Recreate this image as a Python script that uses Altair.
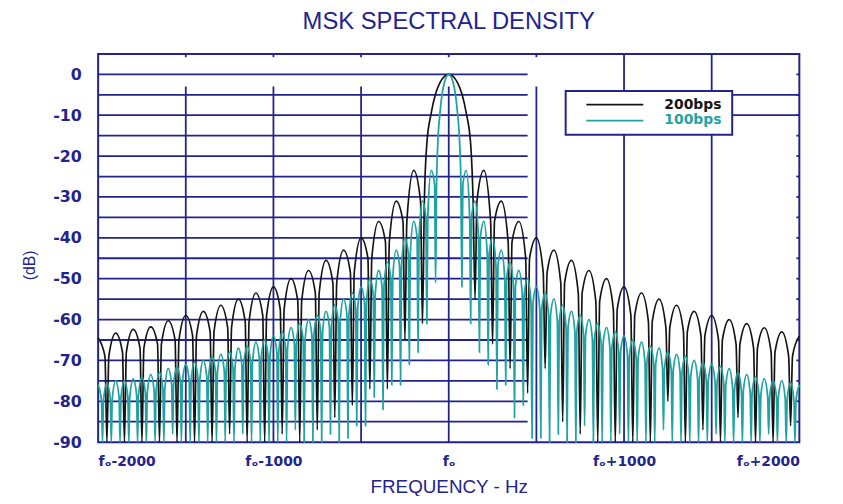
import altair as alt
import pandas as pd

NAVY = "#23238e"
BLACK = "#141414"
TEAL = "#1fa3a3"

# ---------------- data ----------------
# 200 bps (black)
BLK_MAIN_F = [-125, -100, -50, 0, 50, 100, 125]
BLK_MAIN_DB = [-17, -9.5, -2, 0, -2, -9.5, -17]
BLK_PEAK_F = [200, 300, 400, 500, 600, 700, 800, 900, 1000, 1100,
              1200, 1300, 1400, 1500, 1600, 1700, 1800, 1900, 2000]
BLK_PEAK_LEFT_DB = [-23.5, -31, -36, -40, -43, -45.5, -48, -50, -52, -53.5,
                    -55, -56.5, -58, -59, -60.3, -61.8, -62.4, -63.3, -64.5]
BLK_PEAK_RIGHT_DB = [-23.5, -31, -36, -40, -43, -45.5, -48, -50, -52, -53.5,
                     -55, -56.5, -58, -59, -60, -61, -62, -63, -64]
BLK_NULL_F = [150, 250, 350, 450, 550, 650, 750, 850, 950, 1050,
              1150, 1250, 1350, 1450, 1550, 1650, 1750, 1850, 1950]
BLK_EDGE_LEFT_DB = [-31, -36, -41, -45, -48.5, -51, -53.5, -55.5, -57.5, -59,
                    -60.5, -62, -63, -64, -65, -66, -67, -68, -69]
BLK_EDGE_RIGHT_DB = [-31, -36, -41, -45, -48.5, -51, -53.5, -55.5, -57.5, -59,
                     -60.5, -62, -63, -64, -65, -66, -67, -68, -69]
BLK_DEPTH_LEFT_DB = [-61, -65, -77, -77, -81, -84, -87, -90, -88, -90,
                     -90, -88, -90, -90, -90, -90, -90, -90, -90]
BLK_DEPTH_RIGHT_DB = [-55, -66, -72, -78, -72, -85, -88, -90, -90, -90,
                      -90, -80, -90, -87, -90, -84, -90, -90, -86]

# 100 bps (teal)
TEAL_MAIN_F = [-62.5, -50, -25, 0, 25, 50, 62.5]
TEAL_MAIN_DB = [-17, -9.5, -2, 0, -2, -9.5, -17]
TEAL_PEAK_F = [100, 150, 200, 250, 300, 350, 400, 450, 500, 550,
               600, 650, 700, 750, 800, 850, 900, 950, 1000, 1050,
               1100, 1150, 1200, 1250, 1300, 1350, 1400, 1450, 1500, 1550,
               1600, 1650, 1700, 1750, 1800, 1850, 1900, 1950, 2000]
TEAL_PEAK_DB = [-23.5, -31, -36, -40, -43, -46, -48, -50, -52, -53.5,
                -55, -56.5, -58, -59, -60, -61, -62, -63, -64, -65,
                -65.5, -66.5, -67, -68, -68.5, -69, -70, -70.5, -71, -71.5,
                -72, -73, -73.5, -74, -74.5, -75, -75, -75.5, -76]
TEAL_NULL_F = [75, 125, 175, 225, 275, 325, 375, 425, 475, 525,
               575, 625, 675, 725, 775, 825, 875, 925, 975, 1025,
               1075, 1125, 1175, 1225, 1275, 1325, 1375, 1425, 1475, 1525,
               1575, 1625, 1675, 1725, 1775, 1825, 1875, 1925, 1975]
TEAL_EDGE_DB = [-27, -35, -40, -44, -47, -50, -52, -54, -56, -57.5,
                -59, -60.5, -62, -63, -64, -65, -66, -67, -68, -69,
                -69.5, -70.5, -71, -72, -72.5, -73, -74, -74.5, -75, -75.5,
                -76, -77, -77.5, -78, -78.5, -79, -79, -79.5, -80]
TEAL_DEPTH_LEFT_DB = [-51, -61, -68, -71, -76, -76, -82, -79, -86, -86,
                      -89, -90, -88, -90, -90, -90, -87, -90, -90, -90,
                      -90, -90, -88, -90, -90, -90, -90, -90, -90, -90,
                      -88, -90, -90, -90, -90, -90, -90, -90, -90]
TEAL_DEPTH_RIGHT_DB = [-52, -61, -68, -71, -77, -76, -84, -81, -89, -89,
                       -90, -88, -90, -90, -86, -90, -90, -90, -88, -90,
                       -90, -90, -90, -87, -90, -90, -90, -90, -90, -88,
                       -90, -90, -90, -90, -90, -88, -90, -90, -90]

# axes / grid
Y_TICKS = [-90, -80, -70, -60, -50, -40, -30, -20, -10, 0]
X_TICKS = [-2000, -1000, 0, 1000, 2000]
H_GRID_DB = [0, -5, -10, -15, -20, -25, -30, -35, -40, -45,
             -50, -55, -60, -65, -70, -75, -80, -85]
RIGHT_GRID_DB = [-5, -10]
V_GRID_SHORT = [-1500, -1000, -500, 0, 500]
V_GRID_FULL = [1000, 1500]

# drawing style: half width (Hz) of the narrow notch drawn at every null
BLK_NOTCH = 11
TEAL_NOTCH = 5.5


# ---------------- tables ----------------
def line_table(main_f, main_db, peak_f, peak_l, peak_r,
               null_f, edge_l, edge_r, depth_l, depth_r, notch):
    rows = list(zip(main_f, main_db))
    for f, l, r in zip(peak_f, peak_l, peak_r):
        rows.append((-f, l))
        rows.append((f, r))
    for f, el, er, dl, dr in zip(null_f, edge_l, edge_r, depth_l, depth_r):
        rows += [(-f - notch, el), (-f, dl), (-f + notch, el)]
        rows += [(f - notch, er), (f, dr), (f + notch, er)]
    df = pd.DataFrame(rows, columns=["f", "db"])
    return df.sort_values("f").reset_index(drop=True)


blk_line = line_table(BLK_MAIN_F, BLK_MAIN_DB, BLK_PEAK_F, BLK_PEAK_LEFT_DB,
                      BLK_PEAK_RIGHT_DB, BLK_NULL_F, BLK_EDGE_LEFT_DB,
                      BLK_EDGE_RIGHT_DB, BLK_DEPTH_LEFT_DB, BLK_DEPTH_RIGHT_DB,
                      BLK_NOTCH)
teal_line = line_table(TEAL_MAIN_F, TEAL_MAIN_DB, TEAL_PEAK_F, TEAL_PEAK_DB,
                       TEAL_PEAK_DB, TEAL_NULL_F, TEAL_EDGE_DB, TEAL_EDGE_DB,
                       TEAL_DEPTH_LEFT_DB, TEAL_DEPTH_RIGHT_DB, TEAL_NOTCH)

hgrid = pd.DataFrame({"db": H_GRID_DB})
rgrid = pd.DataFrame({"db": RIGHT_GRID_DB})
vshort = pd.DataFrame({"f": V_GRID_SHORT})
vfull = pd.DataFrame({"f": V_GRID_FULL})
one = pd.DataFrame({"k": [0]})

xscale = alt.Scale(domain=[-2000, 2000], nice=False, zero=False)
yscale = alt.Scale(domain=[-90, 5], nice=False, zero=False)

x_axis = alt.Axis(
    values=X_TICKS,
    labelExpr="datum.value == 0 ? 'fₒ' : (datum.value > 0 ? 'fₒ+' + datum.value : 'fₒ' + datum.value)",
    labelFont="DejaVu Sans", labelFontWeight="bold", labelFontSize=14,
    labelColor=NAVY, labelPadding=13, ticks=False, domain=False, grid=False,
    title="FREQUENCY - Hz", titleFont="Liberation Sans", titleFontSize=19,
    titleFontWeight="normal", titleColor=NAVY, titleY=51,
    titleBaseline="alphabetic",
)
y_axis = alt.Axis(
    values=Y_TICKS, labelExpr="datum.value + ''",
    labelFont="DejaVu Sans", labelFontWeight="bold", labelFontSize=16,
    labelColor=NAVY, labelPadding=17, ticks=False, domain=False, grid=False,
    title="(dB)", titleFont="Liberation Sans", titleFontSize=16,
    titleFontWeight="normal", titleColor=NAVY, titleX=-69, titleY=213,
    titleAngle=-90, titleAlign="center", titleBaseline="middle",
)


def X(v):
    if isinstance(v, str):
        return alt.X(v, type="quantitative", scale=xscale, axis=x_axis)
    return alt.datum(v, scale=xscale, axis=x_axis)


def Y(v):
    if isinstance(v, str):
        return alt.Y(v, type="quantitative", scale=yscale, axis=y_axis)
    return alt.datum(v, scale=yscale, axis=y_axis)


GW = 1.8

grid_h = alt.Chart(hgrid).mark_rule(color=NAVY, strokeWidth=GW).encode(
    x=X(-2000), x2=alt.datum(450), y=Y("db"))
grid_r = alt.Chart(rgrid).mark_rule(color=NAVY, strokeWidth=GW).encode(
    x=X(1617), x2=alt.datum(2000), y=Y("db"))
grid_vs = alt.Chart(vshort).mark_rule(color=NAVY, strokeWidth=GW).encode(
    x=X("f"), y=Y(-3), y2=alt.datum(-90))
grid_vf = alt.Chart(vfull).mark_rule(color=NAVY, strokeWidth=GW).encode(
    x=X("f"), y=Y(5), y2=alt.datum(-90))
top_ticks = alt.Chart(vshort).mark_rule(color=NAVY, strokeWidth=GW).encode(
    x=X("f"), y=Y(5), y2=alt.datum(4.2))
right_ticks = alt.Chart(hgrid).mark_rule(color=NAVY, strokeWidth=GW).encode(
    x=X(1983), x2=alt.datum(2000), y=Y("db"))

blk_l = alt.Chart(blk_line).mark_line(
    interpolate="monotone", color=BLACK, strokeWidth=1.7
).encode(x=X("f"), y=Y("db"))
teal_l = alt.Chart(teal_line).mark_line(
    interpolate="monotone", color=TEAL, strokeWidth=1.8
).encode(x=X("f"), y=Y("db"))

leg_box = alt.Chart(one).mark_rect(fill="white", stroke=NAVY, strokeWidth=2).encode(
    x=X(667), x2=alt.datum(1617), y=Y(-4.1), y2=alt.datum(-14.8))
leg_blk = alt.Chart(one).mark_rule(color=BLACK, strokeWidth=1.6).encode(
    x=X(785), x2=alt.datum(1110), y=Y(-7.4))
leg_teal = alt.Chart(one).mark_rule(color=TEAL, strokeWidth=1.8).encode(
    x=X(785), x2=alt.datum(1110), y=Y(-11.3))
leg_t1 = alt.Chart(one).mark_text(
    align="left", baseline="middle", font="DejaVu Sans", fontWeight="bold",
    fontSize=14, color=BLACK, text="200bps",
).encode(x=X(1230), y=Y(-7.4))
leg_t2 = alt.Chart(one).mark_text(
    align="left", baseline="middle", font="DejaVu Sans", fontWeight="bold",
    fontSize=14, color=TEAL, text="100bps",
).encode(x=X(1230), y=Y(-11.3))

title = alt.Chart(one).mark_text(
    align="center", baseline="alphabetic", font="Liberation Sans",
    fontSize=24, color=NAVY, text="MSK SPECTRAL DENSITY",
).encode(x=alt.value(354), y=alt.value(-25))

chart = alt.layer(
    grid_h, grid_r, grid_vs, grid_vf, top_ticks, right_ticks,
    blk_l, teal_l,
    leg_box, leg_blk, leg_teal, leg_t1, leg_t2, title,
).properties(
    width=708, height=392,
    autosize=alt.AutoSizeParams(type="none"),
    padding={"left": 91, "top": 44, "right": 36, "bottom": 52},
    background="white",
).configure_view(stroke=NAVY, strokeWidth=2)

chart.save("out.html", embed_options={"renderer": "svg", "actions": False})
